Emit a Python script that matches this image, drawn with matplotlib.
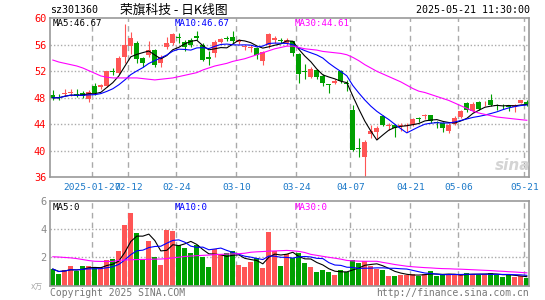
import matplotlib
matplotlib.use("Agg")
import matplotlib.pyplot as plt
import numpy as np
import pandas as pd

plt.rcParams['font.family'] = ['DejaVu Sans Mono', 'Noto Sans CJK SC']

# trading days 2025-01-16 .. 2025-05-21 (A-share calendar)
holidays = ['2025-01-28', '2025-01-29', '2025-01-30', '2025-01-31', '2025-02-03', '2025-02-04',
            '2025-04-04', '2025-05-01', '2025-05-02', '2025-05-05']
dates = [d for d in pd.bdate_range('2025-01-16', '2025-05-21') if d.strftime('%Y-%m-%d') not in holidays]

tick_dates = ['2025-01-27', '2025-02-12', '2025-02-24', '2025-03-10', '2025-03-24',
              '2025-04-07', '2025-04-21', '2025-05-06', '2025-05-21']
tick_labels = ['2025-01-27', '02-12', '02-24', '03-10', '03-24', '04-07', '04-21', '05-06', '05-21']

opens = [48.4, 48.1, 48.5, 48.7, 48.6, 48.8, 47.8, 49.8, 49.6, 49.8,
         52.1, 51.8, 54.2, 55.8, 56.2, 54.0, 54.5, 55.2, 53.3, 55.6,
         56.3, 57.2, 56.4, 56.7, 57.3, 55.9, 54.2, 54.7, 56.4, 57.1,
         57.2, 56.35, 55.6, 55.45, 55.55, 53.55, 55.95, 56.8, 56.7, 56.2,
         56.5, 54.6, 52.0, 51.1, 52.2, 51.3, 50.05, 50.2, 52.05, 50.3,
         46.2, 40.35, 39.05, 42.5, 42.9, 45.2, 43.8, 43.9, 43.7, 43.75,
         43.9, 44.85, 45.2, 45.4, 44.3, 44.15, 43.05, 44.0, 45.05, 47.2,
         46.05, 47.4, 47.15, 47.7, 46.85, 46.8, 46.7, 46.6, 47.2, 47.4]
closes = [48.0, 48.0, 48.7, 48.9, 48.3, 48.3, 48.9, 48.7, 49.9, 52.0,
          51.95, 54.0, 56.0, 57.0, 53.8, 53.3, 55.2, 53.0, 54.1, 56.3,
          57.7, 57.0, 55.6, 56.0, 57.1, 53.7, 53.8, 56.4, 56.9, 56.9,
          56.6, 56.7, 55.8, 55.6, 54.45, 54.95, 57.7, 57.0, 56.6, 56.7,
          54.7, 51.6, 51.9, 52.3, 51.2, 50.3, 50.0, 50.5, 50.5, 50.15,
          40.1, 40.25, 41.4, 43.0, 43.4, 43.9, 43.9, 43.4, 43.85, 43.85,
          44.75, 44.75, 45.35, 44.5, 44.2, 43.4, 43.9, 45.0, 46.05, 46.15,
          47.1, 46.3, 47.25, 46.9, 46.75, 46.7, 46.6, 46.95, 47.6, 47.1]
highs = [49.2, 48.6, 49.3, 49.3, 49.3, 49.1, 49.2, 50.3, 50.1, 52.1,
         52.5, 54.3, 59.1, 57.9, 56.5, 54.2, 56.5, 55.4, 54.4, 57.2,
         57.8, 57.8, 56.7, 57.0, 58.1, 56.2, 55.0, 56.7, 57.1, 57.4,
         58.1, 56.95, 56.0, 55.95, 55.7, 55.1, 57.8, 57.4, 57.0, 57.1,
         56.6, 54.8, 53.1, 52.6, 52.3, 51.6, 50.1, 50.9, 52.2, 50.7,
         46.9, 41.9, 41.7, 43.9, 43.7, 45.4, 44.2, 44.1, 44.2, 44.2,
         44.9, 45.05, 45.55, 45.4, 44.5, 44.4, 44.15, 45.3, 46.15, 47.4,
         47.3, 47.5, 47.5, 48.6, 47.1, 47.1, 46.95, 47.0, 47.65, 47.6]
lows = [47.7, 47.6, 48.2, 48.2, 48.1, 47.9, 47.4, 48.4, 49.4, 49.6,
        51.5, 51.6, 53.2, 54.6, 53.2, 52.7, 54.2, 52.7, 52.6, 55.4,
        55.9, 56.3, 55.1, 55.7, 56.7, 53.5, 52.9, 54.1, 56.2, 56.6,
        56.3, 56.05, 55.2, 54.95, 53.9, 52.9, 55.45, 56.2, 56.3, 56.0,
        54.3, 50.3, 50.8, 51.0, 50.9, 49.8, 48.8, 50.1, 50.3, 49.0,
        39.9, 39.1, 36.0, 41.9, 41.8, 43.8, 43.2, 42.1, 43.0, 42.9,
        43.75, 44.4, 44.8, 44.15, 43.5, 42.9, 42.65, 43.9, 44.9, 45.9,
        45.9, 46.15, 46.7, 46.75, 46.1, 46.3, 45.95, 45.8, 47.15, 46.7]
ma30_price = [53.7, 53.4, 53.2, 53.0, 52.8, 52.5, 52.1, 51.7, 51.3, 51.1,
              51.0, 51.0, 51.0, 51.0, 51.0, 50.9, 50.8, 50.7, 50.8, 50.9,
              51.0, 51.2, 51.4, 51.6, 51.8, 52.2, 52.5, 52.8, 53.0, 53.2,
              53.5, 53.7, 53.9, 54.2, 54.5, 54.8, 55.1, 55.4, 55.6, 55.8,
              55.8, 55.6, 55.4, 55.3, 55.2, 55.0, 54.9, 54.8, 54.7, 54.5,
              54.1, 53.6, 53.0, 52.5, 52.0, 51.6, 51.2, 50.8, 50.4, 49.9,
              49.4, 49.0, 48.8, 48.5, 48.2, 47.9, 47.6, 47.2, 46.8, 46.4,
              46.0, 45.7, 45.5, 45.3, 45.1, 45.0, 44.9, 44.8, 44.7, 44.61]
volumes = [1.18, 0.83, 1.12, 1.40, 1.05, 1.41, 1.37, 1.24, 1.30, 1.83,
           1.88, 2.47, 4.32, 5.16, 3.74, 1.86, 3.19, 2.04, 1.48, 3.97,
           3.84, 2.85, 2.68, 2.35, 2.89, 2.04, 1.33, 2.57, 2.14, 2.30,
           2.44, 1.48, 1.33, 1.71, 1.95, 1.27, 3.82, 2.45, 1.38, 2.24,
           1.95, 2.32, 1.62, 1.33, 1.00, 1.08, 0.98, 0.75, 1.12, 0.95,
           1.79, 1.63, 1.75, 1.40, 1.18, 1.10, 0.70, 0.70, 0.79, 0.75,
           0.85, 0.67, 0.85, 1.06, 0.70, 0.73, 0.78, 0.78, 0.78, 0.90,
           0.83, 0.78, 0.83, 0.90, 0.78, 0.61, 0.78, 0.61, 0.66, 0.54]
ma30_volume = [2.05, 2.03, 2.00, 1.97, 1.92, 1.85, 1.78, 1.73, 1.72, 1.72,
               1.72, 1.80, 1.82, 1.84, 1.85, 1.86, 1.87, 1.88, 1.89, 1.92,
               1.97, 2.02, 2.07, 2.10, 2.13, 2.15, 2.17, 2.20, 2.22, 2.24,
               2.25, 2.27, 2.30, 2.37, 2.40, 2.42, 2.45, 2.46, 2.48, 2.50,
               2.47, 2.43, 2.35, 2.22, 2.15, 2.08, 2.01, 1.95, 1.88, 1.79,
               1.76, 1.74, 1.73, 1.73, 1.73, 1.65, 1.58, 1.50, 1.44, 1.38,
               1.34, 1.31, 1.28, 1.26, 1.23, 1.21, 1.20, 1.18, 1.17, 1.15,
               1.13, 1.11, 1.09, 1.07, 1.04, 1.02, 0.99, 0.97, 0.94, 0.91]

RED = '#ff5555'
GREEN = '#00a000'
GRID = '#aaaaaa'
FRAME = '#999999'

opens = np.array(opens)
closes = np.array(closes)
highs = np.array(highs)
lows = np.array(lows)
volumes = np.array(volumes)
x = np.arange(len(dates))
xc = x + 0.42
colors = np.where(closes >= opens, RED, GREEN)
date_str = [d.strftime('%Y-%m-%d') for d in dates]
tick_idx = [date_str.index(d) for d in tick_dates]

ma5 = pd.Series(closes).rolling(5, min_periods=1).mean()
ma10 = pd.Series(closes).rolling(10, min_periods=1).mean()
vma5 = pd.Series(volumes).rolling(5, min_periods=1).mean()
vma10 = pd.Series(volumes).rolling(10, min_periods=1).mean()

W, H = 545, 300
fig = plt.figure(figsize=(W / 100, H / 100), dpi=100)


def box(x0, y0, x1, y1):
    return [x0 / W, 1 - y1 / H, (x1 - x0) / W, (y1 - y0) / H]


def ftext(px, py, s, **kw):
    fig.text(px / W, 1 - py / H, s, **kw)


ax = fig.add_axes(box(50.3, 18.3, 529.3, 177.3))
axv = fig.add_axes(box(50.3, 201, 529.3, 285.7))

for a in (ax, axv):
    a.set_xlim(0, 79.83)
    for s in a.spines.values():
        s.set_color(FRAME)
        s.set_linewidth(1.2)
    for t in tick_idx:
        a.axvline(t, color=GRID, lw=1.0, ls=(0, (4, 3)), zorder=0)
    a.tick_params(length=0)

# price panel
ax.set_ylim(36, 60)
for g in [40, 44, 48, 52, 56]:
    ax.axhline(g, color=GRID, lw=1.0, ls=(0, (1, 1.5)), zorder=0)
ax.vlines(xc, lows, highs, colors=colors, lw=0.8, zorder=2)
body_h = np.maximum(np.abs(closes - opens), 0.13)
ax.bar(x, body_h, bottom=np.minimum(opens, closes), width=0.84, align='edge',
       color=colors, lw=0, zorder=2)
ax.plot(xc, ma5, color='black', lw=0.8, zorder=3)
ax.plot(xc, ma10, color='#0000ff', lw=0.8, zorder=3)
ax.plot(xc, ma30_price, color='#ff00ff', lw=0.8, zorder=3)
ax.set_yticks([36, 40, 44, 48, 52, 56, 60])
ax.set_yticklabels(['36', '40', '44', '48', '52', '56', '60'], color='red', fontsize=7.4)
ax.tick_params(axis='y', pad=3)
ax.set_xticks(tick_idx)
ax.set_xticklabels(tick_labels, color='#1a78c8', fontsize=6.8)
ax.tick_params(axis='x', pad=4)

# volume panel
axv.set_ylim(0, 6)
for g in [2, 4]:
    axv.axhline(g, color=GRID, lw=1.0, ls=(0, (1, 1.5)), zorder=0)
axv.bar(x, volumes, width=0.84, align='edge', color=colors, lw=0, zorder=2)
axv.plot(xc, vma5, color='black', lw=0.8, zorder=3)
axv.plot(xc, vma10, color='#0000ff', lw=0.8, zorder=3)
axv.plot(xc, ma30_volume, color='#ff00ff', lw=0.8, zorder=3)
axv.set_yticks([2, 4, 6])
axv.set_yticklabels(['2', '4', '6'], color='#888888', fontsize=7.4)
axv.tick_params(axis='y', pad=3)
axv.set_xticks([])

# header texts
ftext(50, 10, 'sz301360', fontsize=7.2, va='center', ha='left')
ftext(120, 10, '荣旗科技 - 日K线图', fontsize=9.2, va='center', ha='left',
      family=['Noto Sans CJK SC', 'DejaVu Sans'])
ftext(530, 10, '2025-05-21 11:30:00', fontsize=7.2, va='center', ha='right')
ftext(53, 23.5, 'MA5:46.67', fontsize=6.6, va='center', ha='left', color='black')
ftext(175, 23.5, 'MA10:46.67', fontsize=6.6, va='center', ha='left', color='#0000ff')
ftext(295, 23.5, 'MA30:44.61', fontsize=6.6, va='center', ha='left', color='#ff00ff')
ftext(53, 207, 'MA5:0', fontsize=6.6, va='center', ha='left', color='black')
ftext(175, 207, 'MA10:0', fontsize=6.6, va='center', ha='left', color='#0000ff')
ftext(295, 207, 'MA30:0', fontsize=6.6, va='center', ha='left', color='#ff00ff')

# footer texts
ftext(50, 292.5, 'Copyright 2025 SINA.COM', fontsize=7.0, va='center', ha='left', color='#777777')
ftext(529, 292.5, 'http://finance.sina.com.cn', fontsize=7.0, va='center', ha='right', color='#777777')
ftext(43, 287, 'x万', fontsize=5.5, va='center', ha='right', color='#aaaaaa',
      family=['DejaVu Sans', 'Noto Sans CJK SC'])
ftext(513, 166, 'sina', fontsize=11, va='center', ha='center', color='#d4d4d4',
      style='italic', weight='bold', family=['DejaVu Sans'])

fig.savefig('out.png', dpi=100)
